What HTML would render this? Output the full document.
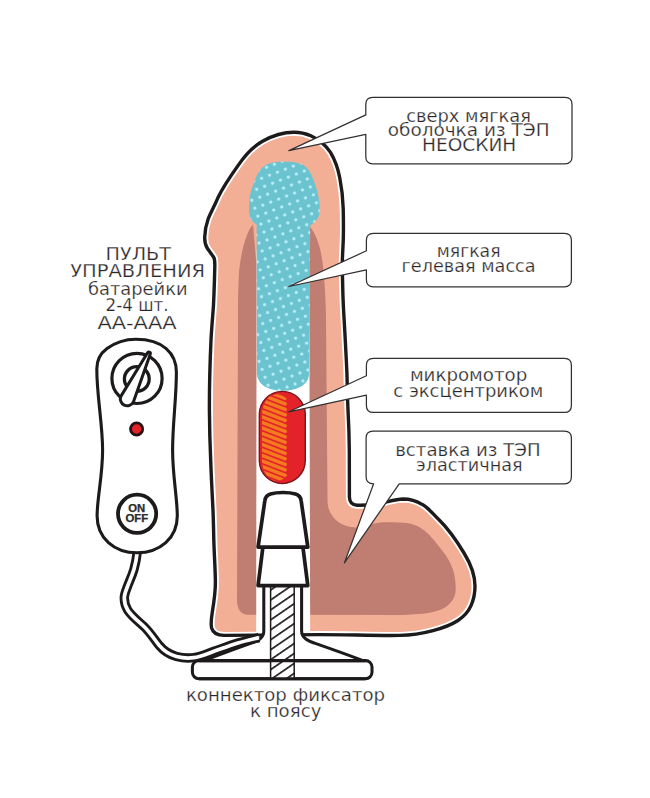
<!DOCTYPE html>
<html lang="ru">
<head>
<meta charset="utf-8">
<title>Схема</title>
<style>
  html, body { margin: 0; padding: 0; background: #ffffff; }
  body { width: 650px; height: 798px; overflow: hidden; }
  svg { display: block; }
  text { font-family: "DejaVu Sans", "Liberation Sans", sans-serif; fill: #2a2627; stroke: #ffffff; stroke-width: 0.25px; }
  .lbl { font-size: 17.4px; }
  .ttl { font-size: 18px; }
</style>
</head>
<body>
<svg width="650" height="798" viewBox="0 0 650 798">
  <defs>
    <pattern id="dots" width="8.5" height="8.5" patternUnits="userSpaceOnUse" patternTransform="translate(250 160) rotate(-21)">
      <rect width="8.5" height="8.5" fill="#6bc3d0"/>
      <circle cx="4.25" cy="4.25" r="1.65" fill="#b6edf8"/>
    </pattern>
    <pattern id="hatch" width="10" height="8.2" patternUnits="userSpaceOnUse" patternTransform="translate(270.6 589) rotate(-34.5)">
      <rect width="10" height="8.2" fill="#ffffff"/>
      <rect width="10" height="1.7" fill="#231f20"/>
    </pattern>
    <path id="bodyP" d="M294,132.2
      C281,132.2 271,136.4 262.5,141.2
      C252,147.2 244,156.8 238,165.6
      C230,176.8 223,187.2 218,197.6
      C213.5,208 210,214 208,219.5
      C206,225 204.9,231 204.7,237.2
      C204.6,242 205.5,245.5 207.3,248.2
      C209.5,251.5 212.5,255 214.1,258.1
      C215,260.5 214.9,266 214.7,270.4
      C214.5,282 214,294 213.5,305
      C212.7,317 211.6,328 211,340
      C210,362 209.3,386 209.4,410
      C209.5,428 210,446 210.8,463
      C211.4,480 212.3,496 213,510.2
      C213.4,520 213.6,530 213.8,540
      C214.2,554 215.2,568 215.4,581.4
      C215.5,592 213.8,603 212.3,612
      C211.2,619 210.6,624 211.6,628
      C213,633 217,635.4 224,635.4
      L320,634.6
      C348,634.6 376,635.8 400,635.4
      C412,635.2 424,633 433,630.6
      C443,628 451,625 458,620.5
      C464,616.5 468.5,611.5 471,605.7
      C473.5,600 475,593.5 475,586.3
      C475,575 470.5,563.5 464,553
      C457,541.5 448.5,529 439,519.8
      C433.5,514.5 428.5,508 422.5,504.6
      C416.5,501 410,499 403,499
      C394,499.3 385,503 375.4,504.2
      C369,505 362,505.4 357,505.2
      C352,505 349.6,502 349.4,497
      L349.3,450
      C349.2,437 348.7,423 348,410
      C347.4,397 347.3,385 346.9,372.8
      C346.3,359 345.5,345 344.8,331.4
      C344,317 343,303 342.8,290
      C342.6,281 342.3,271 342.3,262.6
      C342.5,252 343.4,243 343.4,233
      C343.5,225 343.4,216 343.2,208.5
      C342.9,199 341.8,188 339.8,178
      C338,168.5 335,160 330.5,152.4
      C325.5,144.8 319,139.6 310.8,135.8
      C305,133.2 300,132.2 294,132.2 Z"/>
  </defs>

  <!-- body outline + skin -->
  <use href="#bodyP" fill="#f3ae96" stroke="#ffffff" stroke-width="7" stroke-linejoin="round"/>

  <!-- elastic insert (dark) -->
  <path fill="#c07d71" d="M253,224.5
      C248,229 241.5,248 239.2,270
      C238.2,285 238,300 238,320
      L237,600
      C237,609 241,614.8 248,614.8
      L403,615
      C414,614.6 423,614 430.8,612.6
      C438,611 443.5,609 447.4,605.7
      C453,601 455.7,596 455.7,589
      C455.7,582 455,576 453,569.7
      C450.5,562 446.5,556 441.8,550
      C436.5,543.5 431.5,536 425,531
      C418,525.5 410,522.6 400,522.6
      C392,522.4 386,522.2 380,522.6
      C372,523.4 364,527.6 356,527.4
      C340,527 328,517 327.5,501
      L326,320
      C325.8,300 325,285 322.5,262
      C320.5,246 315,232 310,227
      L310,260 L256,260 Z"/>

  <!-- channel (white) -->
  <path fill="#ffffff" d="M256.6,250 L309.2,250 L310.2,640 L256.2,640 Z"/>

  <!-- gel -->
  <path fill="url(#dots)" d="M285,161.7
      C279,161.7 274,162 269,163.5
      C262,166 258,172 255.4,179
      C252.5,186.5 249.6,193.5 249.2,201
      C248.9,205 248.9,209.5 249.2,213.4
      C249.6,218.5 252.5,221.5 256.6,224.5
      L257,374
      C257,384 268,390.8 283,390.8
      C298,390.8 309,384 309,374
      L310.2,225.7
      C314.5,222.5 319,218.5 319.4,213.4
      C319.7,209.5 319.7,207 319.4,203.5
      C318.8,195 316,186.5 313.2,179
      C310.5,172 307,166 300,163.5
      C295.5,162 291,161.7 285,161.7 Z"/>

  <!-- body outline -->
  <use href="#bodyP" fill="none" stroke="#1d1a1b" stroke-width="3.4" stroke-linejoin="round"/>

  <!-- motor -->
  <g>
    <clipPath id="motorClip"><rect x="262" y="394.2" width="30" height="86.6" rx="20.2" ry="20.2"/></clipPath>
    <rect x="259.3" y="391.4" width="46" height="92.2" rx="23" ry="23" fill="#e4222a" stroke="#7c1518" stroke-width="1.4"/>
    <g clip-path="url(#motorClip)" stroke="#f47a20" stroke-width="3.4" stroke-linecap="round" fill="none">
      <path d="M256,387.0 L285.2,398.4"/><path d="M256,392.5 L285.2,403.9"/><path d="M256,398.0 L285.2,409.4"/><path d="M256,403.5 L285.2,414.9"/><path d="M256,409.0 L285.2,420.4"/><path d="M256,414.5 L285.2,425.9"/><path d="M256,420.0 L285.2,431.4"/><path d="M256,425.5 L285.2,436.9"/><path d="M256,431.0 L285.2,442.4"/><path d="M256,436.5 L285.2,447.9"/><path d="M256,442.0 L285.2,453.4"/><path d="M256,447.5 L285.2,458.9"/><path d="M256,453.0 L285.2,464.4"/><path d="M256,458.5 L285.2,469.9"/><path d="M256,464.0 L285.2,475.4"/><path d="M256,469.5 L285.2,480.9"/><path d="M256,475.0 L285.2,486.4"/><path d="M256,480.5 L285.2,491.9"/>
    </g>
  </g>

  <!-- connector -->
  <g stroke="#1d1a1b" stroke-width="3.05" stroke-linejoin="round" fill="#ffffff">
    <!-- sleeve + flare -->
    <path d="M263.8,585 L263.8,631 C263.8,638 258,641 250,643.6 C236,648.5 220,654.5 204,660.6 L363,660.6 C347,654.5 330,648.5 316,643.6 C308,641 301.6,638 301.6,631 L301.6,585 Z"/>
    <!-- base plate -->
    <rect x="192.4" y="660.6" width="179.6" height="18.2" rx="6.5" ry="6.5"/>
    <!-- hatched core -->
    <rect x="270.6" y="585" width="23.6" height="93.6" fill="url(#hatch)" stroke="none"/>
    <path d="M270.6,585 L270.6,678.6 M294.2,585 L294.2,678.6" fill="none" stroke-width="1.5"/>
    <path d="M199,660.6 L365.5,660.6 M199,678.8 L365.5,678.8" fill="none"/>
    
    <!-- lower barb -->
    <path stroke-width="3.7" d="M262.9,547.1 L302.9,547.1 L307.8,585.6 L258.1,585.6 Z"/>
    <!-- upper barb -->
    <path stroke-width="3.7" d="M264.8,501 C265.2,497 267,495 270.5,494 C277,492 289,492 295.5,494 C299,495 300.8,497 301.2,501 L307.8,547.1 L258.1,547.1 Z"/>
  </g>

  <!-- cable -->
  <path d="M137.2,552 C136.6,558 135.5,564 133.9,569.6 C132,576 129.5,581 127.8,585.6 C126,590.5 124.3,594 124.3,598 C124.3,602.5 125.5,606.5 127.8,610.2 C131,615.5 138,621 144.5,627 C150.5,633 154.5,639.5 159.2,645.4 C163.5,650.5 169,654.5 176.5,656.5 C182,658 188,658.4 193.7,657.7 C200.5,656.8 207,653.8 213.4,651.5 C222,648.5 230,645.5 238,643 C245,640.8 252,639.3 259,637.6" fill="none" stroke="#1d1a1b" stroke-width="9.4"/>
  <path d="M137.2,552 C136.6,558 135.5,564 133.9,569.6 C132,576 129.5,581 127.8,585.6 C126,590.5 124.3,594 124.3,598 C124.3,602.5 125.5,606.5 127.8,610.2 C131,615.5 138,621 144.5,627 C150.5,633 154.5,639.5 159.2,645.4 C163.5,650.5 169,654.5 176.5,656.5 C182,658 188,658.4 193.7,657.7 C200.5,656.8 207,653.8 213.4,651.5 C222,648.5 230,645.5 238,643 C245,640.8 252,639.3 259,637.6" fill="none" stroke="#ffffff" stroke-width="3.7"/>

  <!-- remote -->
  <g stroke="#1d1a1b" fill="#ffffff">
    <path stroke-width="3.1" d="M135.8,339.3
      C146,339.3 158,341.5 166.2,348.6
      C172.4,354 176.4,362 176.4,372.3
      C176.4,398 172.6,424 172.6,450
      C172.6,476 177.3,498 177.3,516
      C177.3,538 160,552.8 137,552.8
      C114,552.8 97.1,538 97.1,516
      C97.1,498 102.6,476 102.6,450
      C102.6,424 96.8,396 96.8,369
      C96.8,360 101,353 107,348.6
      C114,343.5 125,339.3 135.8,339.3 Z"/>
    <circle cx="137" cy="378.4" r="25.1" stroke-width="3.2"/>
    <circle cx="136.8" cy="379" r="12.4" stroke-width="3.3"/>
    <path stroke-width="3" stroke-linejoin="round" d="M147.4,353 A1.5,1.5 0 0 1 150.2,354.2 L133.4,401.9 A6.8,6.8 0 0 1 121,396.1 Z"/>
    <circle cx="136.6" cy="429" r="6.1" fill="#e3222a" stroke="#241214" stroke-width="2.8"/>
    <circle cx="137.1" cy="513.8" r="19.1" stroke-width="3.8"/>
  </g>
  <text x="128.2" y="511.9" textLength="16.9" lengthAdjust="spacingAndGlyphs" style="font-family:'Liberation Sans',sans-serif;font-weight:700;font-size:10.3px;fill:#2d2a2b;stroke:#2d2a2b;stroke-width:0.25px">ON</text>
  <text x="125.5" y="521.6" textLength="22.7" lengthAdjust="spacingAndGlyphs" style="font-family:'Liberation Sans',sans-serif;font-weight:700;font-size:10.3px;fill:#2d2a2b;stroke:#2d2a2b;stroke-width:0.25px">OFF</text>

  <!-- callouts -->
  <g fill="#ffffff" stroke="#343031" stroke-width="1.25" stroke-linejoin="round">
    <path d="M372.8,97.4 L565,97.4 Q572,97.4 572,104.4 L572,156.8 Q572,163.8 565,163.8 L372.8,163.8 Q365.8,163.8 365.8,156.8 L365.8,134.3 L288.9,150.6 L365.8,114.9 L365.8,104.4 Q365.8,97.4 372.8,97.4 Z"/>
    <path d="M373.4,233.3 L564.4,233.3 Q571.4,233.3 571.4,240.3 L571.4,279.8 Q571.4,286.8 564.4,286.8 L373.4,286.8 Q366.4,286.8 366.4,279.8 L366.4,269.9 L288.9,286.5 L366.4,250.8 L366.4,240.3 Q366.4,233.3 373.4,233.3 Z"/>
    <path d="M373.4,358.3 L564.4,358.3 Q571.4,358.3 571.4,365.3 L571.4,405.4 Q571.4,412.4 564.4,412.4 L373.4,412.4 Q366.4,412.4 366.4,405.4 L366.4,395.2 L288.9,411.8 L366.4,375.8 L366.4,365.3 Q366.4,358.3 373.4,358.3 Z"/>
    <path d="M373.1,431.0 L564.4,431.0 Q571.4,431.0 571.4,438.0 L571.4,476.8 Q571.4,483.8 564.4,483.8 L399.2,483.8 L344.4,562.9 L373.6,483.8 Q366.1,483.8 366.1,476.8 L366.1,438.0 Q366.1,431.0 373.1,431.0 Z"/>
  </g>

  <!-- labels -->
  <text class="lbl" x="406.3" y="122.2" textLength="124.7" lengthAdjust="spacingAndGlyphs">сверх мягкая</text>
  <text class="lbl" x="387.8" y="136.4" textLength="161.7" lengthAdjust="spacingAndGlyphs">оболочка из ТЭП</text>
  <text class="lbl" x="422.0" y="151.2" textLength="94.3" lengthAdjust="spacingAndGlyphs">НЕОСКИН</text>
  <text class="lbl" x="436.8" y="257.2" textLength="63.7" lengthAdjust="spacingAndGlyphs">мягкая</text>
  <text class="lbl" x="401.6" y="272.4" textLength="134.0" lengthAdjust="spacingAndGlyphs">гелевая масса</text>
  <text class="lbl" x="409.9" y="381.0" textLength="117.4" lengthAdjust="spacingAndGlyphs">микромотор</text>
  <text class="lbl" x="393.3" y="396.5" textLength="150.1" lengthAdjust="spacingAndGlyphs">с эксцентриком</text>
  <text class="lbl" x="395.2" y="456.0" textLength="145.4" lengthAdjust="spacingAndGlyphs">вставка из ТЭП</text>
  <text class="lbl" x="416.0" y="470.8" textLength="106.6" lengthAdjust="spacingAndGlyphs">эластичная</text>
  <text class="ttl" x="105.5" y="259.6" textLength="65.5" lengthAdjust="spacingAndGlyphs">ПУЛЬТ</text>
  <text class="ttl" x="70.2" y="277.2" textLength="134.9" lengthAdjust="spacingAndGlyphs">УПРАВЛЕНИЯ</text>
  <text class="ttl" x="88.0" y="294.8" textLength="99.6" lengthAdjust="spacingAndGlyphs">батарейки</text>
  <text class="ttl" x="105.5" y="311.3" textLength="63.1" lengthAdjust="spacingAndGlyphs">2-4 шт.</text>
  <text class="ttl" x="97.5" y="328.6" textLength="79.0" lengthAdjust="spacingAndGlyphs">АА-ААА</text>
  <text class="ttl" x="185.9" y="701.0" textLength="199.2" lengthAdjust="spacingAndGlyphs">коннектор фиксатор</text>
  <text class="ttl" x="250.0" y="716.5" textLength="71.4" lengthAdjust="spacingAndGlyphs">к поясу</text>
</svg>
</body>
</html>
